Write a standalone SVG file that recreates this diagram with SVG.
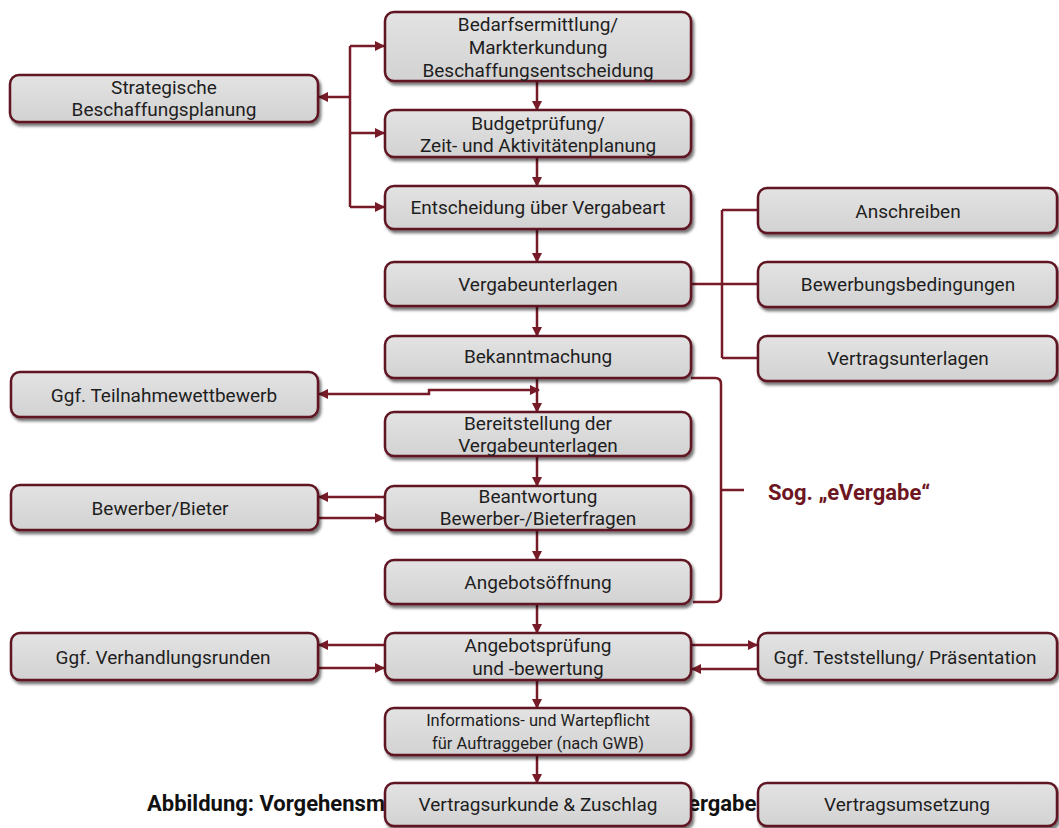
<svg xmlns="http://www.w3.org/2000/svg" width="1059" height="828" viewBox="0 0 1059 828">
<defs>
<linearGradient id="g" x1="0" y1="0" x2="0" y2="1">
<stop offset="0" stop-color="#e4e3e3"/>
<stop offset="1" stop-color="#d3d2d2"/>
</linearGradient>
<filter id="sh" x="-5%" y="-20%" width="112%" height="150%">
<feDropShadow dx="2" dy="3" stdDeviation="1.5" flood-color="#000" flood-opacity="0.55"/>
</filter>
<marker id="ah" viewBox="0 0 10 10" refX="9" refY="5" markerWidth="10" markerHeight="10" markerUnits="userSpaceOnUse" orient="auto-start-reverse">
<path d="M0,0 L10,5 L0,10 z" fill="#761b27"/>
</marker>
</defs>
<style>
.b rect{fill:url(#g);stroke:#5e1520;stroke-width:2.5;filter:url(#sh)}
.b text{font-family:Roboto,"Liberation Sans",sans-serif;font-size:19px;fill:#1e1e1e;text-anchor:middle}
.c path{fill:none;stroke:#761b27;stroke-width:2.5}
.cap{font-family:Roboto,"Liberation Sans",sans-serif;font-size:22px;font-weight:bold;fill:#111}
</style>
<rect width="1059" height="828" fill="#ffffff"/>
<text class="cap" x="147" y="811">Abbildung: Vorgehensm</text>
<text class="cap" x="688" y="811">ergabe</text>
<g class="c">
<path d="M537 81 V110" marker-end="url(#ah)"/>
<path d="M537 157 V186" marker-end="url(#ah)"/>
<path d="M537 229 V262" marker-end="url(#ah)"/>
<path d="M537 306 V336" marker-end="url(#ah)"/>
<path d="M537 378 V412" marker-end="url(#ah)"/>
<path d="M537 456 V486" marker-end="url(#ah)"/>
<path d="M537 530 V560" marker-end="url(#ah)"/>
<path d="M537 604 V633" marker-end="url(#ah)"/>
<path d="M537 680 V708" marker-end="url(#ah)"/>
<path d="M537 755 V783" marker-end="url(#ah)"/>
<path d="M350 97 H319" marker-end="url(#ah)"/>
<path d="M350 46 V207"/>
<path d="M350 46 H384" marker-end="url(#ah)"/>
<path d="M350 133 H384" marker-end="url(#ah)"/>
<path d="M350 207 H384" marker-end="url(#ah)"/>
<path d="M691 284 H758"/>
<path d="M722 210 V358"/>
<path d="M722 210 H758"/>
<path d="M722 358 H758"/>
<path d="M319 394 H429 V390 H539" marker-start="url(#ah)" marker-end="url(#ah)"/>
<path d="M385 497 H319" marker-end="url(#ah)"/>
<path d="M318 518 H384" marker-end="url(#ah)"/>
<path d="M385 645 H319" marker-end="url(#ah)"/>
<path d="M318 668 H384" marker-end="url(#ah)"/>
<path d="M691 645 H757" marker-end="url(#ah)"/>
<path d="M758 669 H692" marker-end="url(#ah)"/>
<path d="M691 378 H715 Q721 378 721 384 V596 Q721 602 715 602 H693"/>
<path d="M721 490 H744"/>
</g>
<text x="768" y="500" font-family="Roboto,'Liberation Sans',sans-serif" font-size="22" font-weight="bold" fill="#6e1522">Sog. „eVergabe“</text>
<g id="n1" class="b"><rect x="385" y="12" width="306" height="69" rx="9"/><text x="538" y="31">Bedarfsermittlung/</text><text x="538" y="54">Markterkundung</text><text x="538" y="77">Beschaffungsentscheidung</text></g>
<g id="n2" class="b"><rect x="10" y="75" width="308" height="47" rx="9"/><text x="164" y="94">Strategische</text><text x="164" y="116">Beschaffungsplanung</text></g>
<g id="n3" class="b"><rect x="385" y="110" width="306" height="47" rx="9"/><text x="538" y="130">Budgetprüfung/</text><text x="538" y="152">Zeit- und Aktivitätenplanung</text></g>
<g id="n4" class="b"><rect x="385" y="186" width="306" height="43" rx="9"/><text x="538" y="214">Entscheidung über Vergabeart</text></g>
<g id="n5" class="b"><rect x="385" y="262" width="306" height="44" rx="9"/><text x="538" y="291">Vergabeunterlagen</text></g>
<g id="n6" class="b"><rect x="385" y="336" width="306" height="42" rx="9"/><text x="538" y="363">Bekanntmachung</text></g>
<g id="n7" class="b"><rect x="758" y="188" width="299" height="45" rx="9"/><text x="908" y="218">Anschreiben</text></g>
<g id="n8" class="b"><rect x="758" y="262" width="299" height="45" rx="9"/><text x="908" y="291">Bewerbungsbedingungen</text></g>
<g id="n9" class="b"><rect x="758" y="336" width="299" height="45" rx="9"/><text x="908" y="365">Vertragsunterlagen</text></g>
<g id="n10" class="b"><rect x="11" y="372" width="307" height="45" rx="9"/><text x="164" y="402">Ggf. Teilnahmewettbewerb</text></g>
<g id="n11" class="b"><rect x="385" y="412" width="306" height="44" rx="9"/><text x="538" y="430">Bereitstellung der</text><text x="538" y="452">Vergabeunterlagen</text></g>
<g id="n12" class="b"><rect x="11" y="485" width="307" height="45" rx="9"/><text x="160" y="515">Bewerber/Bieter</text></g>
<g id="n13" class="b"><rect x="385" y="486" width="306" height="44" rx="9"/><text x="538" y="503">Beantwortung</text><text x="538" y="525">Bewerber-/Bieterfragen</text></g>
<g id="n14" class="b"><rect x="385" y="560" width="306" height="44" rx="9"/><text x="538" y="589">Angebotsöffnung</text></g>
<g id="n15" class="b"><rect x="11" y="633" width="307" height="47" rx="9"/><text x="163" y="664">Ggf. Verhandlungsrunden</text></g>
<g id="n16" class="b"><rect x="385" y="633" width="306" height="47" rx="9"/><text x="538" y="652">Angebotsprüfung</text><text x="538" y="675">und -bewertung</text></g>
<g id="n17" class="b"><rect x="758" y="633" width="299" height="47" rx="9"/><text x="905" y="664">Ggf. Teststellung/ Präsentation</text></g>
<g id="n18" class="b"><rect x="385" y="708" width="306" height="47" rx="9"/><text x="538" y="726" style="font-size:16.5px">Informations- und Wartepflicht</text><text x="538" y="749" style="font-size:16.5px">für Auftraggeber (nach GWB)</text></g>
<g id="n19" class="b"><rect x="385" y="783" width="306" height="43" rx="9"/><text x="538" y="811">Vertragsurkunde &amp; Zuschlag</text></g>
<g id="n20" class="b"><rect x="758" y="783" width="299" height="43" rx="9"/><text x="907" y="811">Vertragsumsetzung</text></g>
</svg>
